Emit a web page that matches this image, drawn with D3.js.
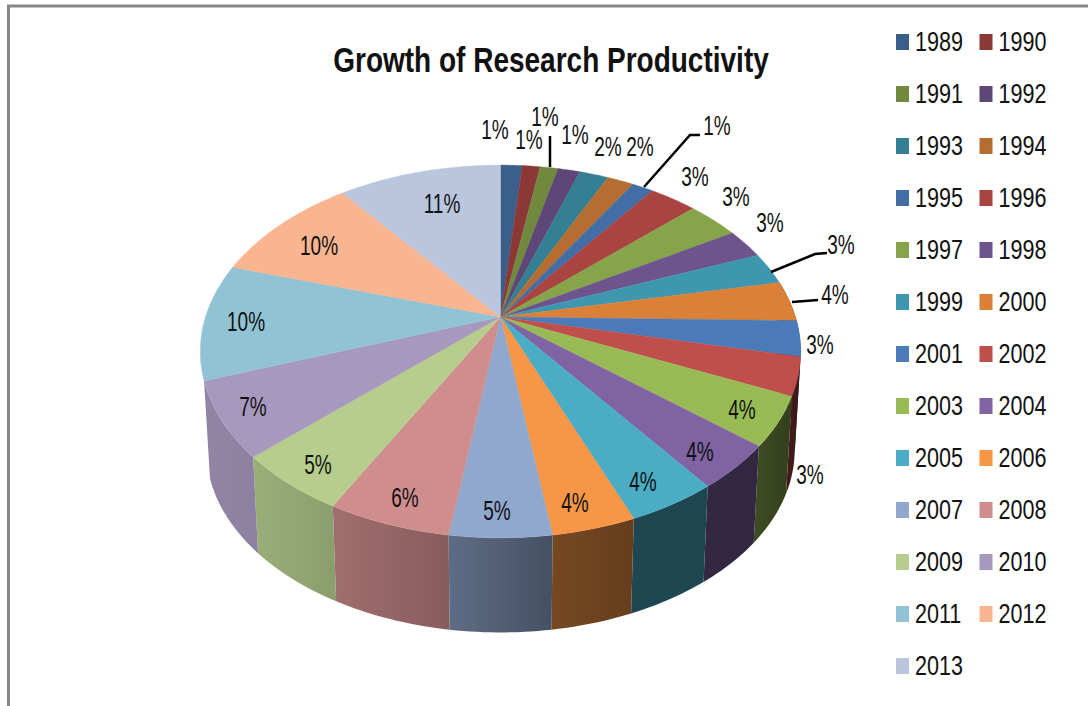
<!DOCTYPE html>
<html>
<head>
<meta charset="utf-8">
<style>
html, body { margin: 0; padding: 0; background: #fff; overflow: hidden; }
text { font-family: "Liberation Sans", sans-serif; fill: #111; }
</style>
<script src="https://cdn.jsdelivr.net/npm/d3@7"></script>
</head>
<body>
<svg id="chart" width="1088" height="706"></svg>
<script>
var years = [1989, 1990, 1991, 1992, 1993, 1994, 1995, 1996, 1997, 1998, 1999, 2000, 2001,
    2002, 2003, 2004, 2005, 2006, 2007, 2008, 2009, 2010, 2011, 2012, 2013];
var values = [1.4, 1.14, 1.17, 1.42, 1.86, 1.72, 1.36, 3.05, 3.36, 2.56, 2.78, 3.5, 3.08,
    3.28, 4.25, 3.86, 4.1, 3.8, 4.6, 5.6, 5.2, 6.5, 10.1, 9.8, 10.5];
var colors = ["#3a5f8b", "#8c3836", "#71893f", "#5c4776", "#357f92", "#b66d31", "#426da7",
    "#a94441", "#86a44a", "#6e548d", "#3f97af", "#da8137", "#4b7bb8", "#be4f4c", "#99bb55",
    "#7f63a2", "#4aacc5", "#f79646", "#91a8ce", "#cf8e8d", "#b7cd8e", "#a798be", "#92c3d4",
    "#f9b590", "#b9c6dd"];

// 标签位置 (excel 手动摆放的)
var labelPos = [[495, 130], [529, 140], [545, 117], [575, 135], [608, 147], [640, 147], [717, 126],
    [695, 177], [736, 197], [770, 223], [841, 245], [835, 295], [820, 345], [810, 475], [742, 410],
    [700, 452], [643, 482], [575, 503], [497, 511], [405, 498], [318, 465], [253, 407], [246, 322],
    [319, 246], [442, 204]];
var leaders = [
    [[550, 167], [550, 136]],
    [[644, 187], [690, 135], [700, 135]],
    [[771, 272], [815, 254], [827, 253]],
    [[792, 302], [818, 300]]
];

var svg = d3.select("#chart");
var defs = svg.append("defs");

// 外框，只有上边和左边
svg.append("path")
    .attr("d", "M8.5,706V6H1088")
    .attr("fill", "none")
    .attr("stroke", "#868686")
    .attr("stroke-width", 3);

svg.append("text")
    .attr("transform", "translate(551,72) scale(0.8,1)")
    .attr("text-anchor", "middle")
    .attr("font-size", 35)
    .attr("font-weight", "bold")
    .text("Growth of Research Productivity");

// 透视投影
var cx = 500.5, cy = 317, a = 295, b = 180, k = 0.185;

function project(angle, depth) {
    var u = Math.sin(angle), v = -Math.cos(angle);
    var w = 1 - k * v;
    var s = depth ? 0.98 : 1;
    return [cx + s * a * u / w, cy + s * b * v / w + (depth ? 99 : 0)];
}

function samples(start, end) {
    var n = Math.max(2, Math.ceil((end - start) / 0.02));
    return d3.range(n + 1).map(function (i) {
        return start + (end - start) * i / n;
    });
}

var line = d3.line();
var pie = d3.pie().sort(null).value(function (d) { return d; });
var arcs = pie(values);

// 侧面明暗
var shade = d3.scaleLinear()
    .domain([100, 130, 158, 172, 188, 208, 228, 250, 270])
    .range([0.28, 0.4, 0.41, 0.48, 0.65, 0.77, 0.85, 0.87, 0.87])
    .clamp(true);
var deg = 180 / Math.PI;

function wallColor(i, angle) {
    var c = d3.rgb(colors[i]), f = shade(angle * deg);
    return d3.rgb(c.r * f, c.g * f, c.b * f).formatHex();
}

// 2011 之后的侧面看不到
var front = arcs.filter(function (d) {
    return d.endAngle > Math.PI / 2 && d.startAngle < Math.PI * 1.35;
});

front.forEach(function (d) {
    var g = defs.append("linearGradient")
        .attr("id", "wall" + d.index)
        .attr("gradientUnits", "userSpaceOnUse")
        .attr("x1", project(d.startAngle, 0)[0])
        .attr("x2", project(d.endAngle, 0)[0])
        .attr("y1", 0)
        .attr("y2", 0);
    g.append("stop").attr("offset", 0).attr("stop-color", wallColor(d.index, d.startAngle));
    g.append("stop").attr("offset", 1).attr("stop-color", wallColor(d.index, d.endAngle));
});

svg.append("g").selectAll("path")
    .data(front)
    .join("path")
    .attr("fill", function (d) { return "url(#wall" + d.index + ")"; })
    .attr("d", function (d) {
        var angles = samples(d.startAngle, d.endAngle);
        var upper = angles.map(function (t) { return project(t, 0); });
        var lower = angles.slice().reverse().map(function (t) { return project(t, 1); });
        return line(upper.concat(lower)) + "Z";
    });

svg.append("g").selectAll("path")
    .data(arcs)
    .join("path")
    .attr("fill", function (d) { return colors[d.index]; })
    .attr("stroke", function (d) { return colors[d.index]; })
    .attr("stroke-width", 0.4)
    .attr("d", function (d) {
        var rim = samples(d.startAngle, d.endAngle).map(function (t) { return project(t, 0); });
        return line([[cx, cy]].concat(rim)) + "Z";
    });

// 引导线
svg.append("g").selectAll("path")
    .data(leaders)
    .join("path")
    .attr("d", line)
    .attr("fill", "none")
    .attr("stroke", "#000")
    .attr("stroke-width", 2.5);

// 数据标签
var total = d3.sum(values);
svg.append("g").selectAll("text")
    .data(values)
    .join("text")
    .attr("transform", function (d, i) {
        return "translate(" + labelPos[i][0] + "," + (labelPos[i][1] + 9) + ") scale(0.68,1)";
    })
    .attr("text-anchor", "middle")
    .attr("font-size", 28)
    .text(function (d) { return Math.round(d / total * 100) + "%"; });

// 图例
var legendY = d3.scalePoint()
    .domain(d3.range(Math.ceil(years.length / 2)))
    .range([42, 666]);
var legendX = d3.scalePoint()
    .domain([0, 1])
    .range([896, 979.5]);

var legend = svg.append("g").selectAll("g")
    .data(years)
    .join("g")
    .attr("transform", function (d, i) {
        return "translate(" + legendX(i % 2) + "," + legendY(Math.floor(i / 2)) + ")";
    });

legend.append("rect")
    .attr("y", -8)
    .attr("width", 13)
    .attr("height", 16)
    .attr("fill", function (d, i) { return colors[i]; });

legend.append("text")
    .attr("transform", "translate(19,9) scale(0.77,1)")
    .attr("font-size", 28)
    .text(function (d) { return d; });
</script>
</body>
</html>
